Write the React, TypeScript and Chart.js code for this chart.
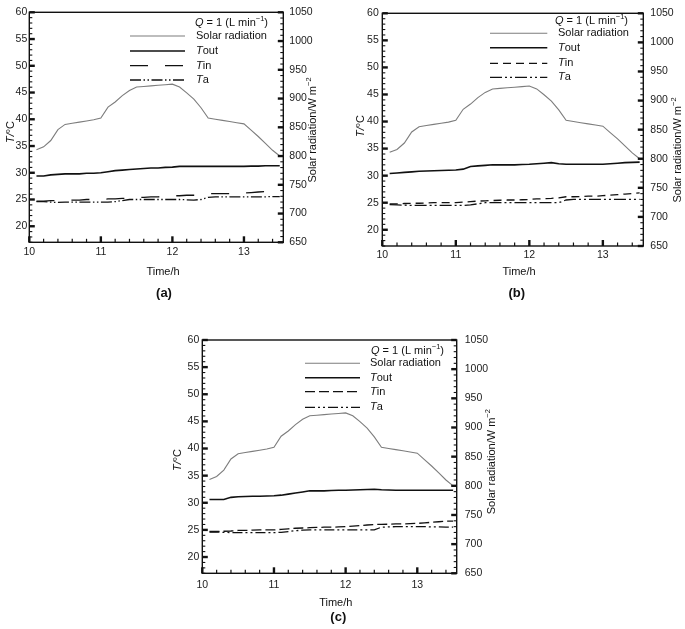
import React, { useEffect, useRef } from 'react';
import { Chart, registerables } from 'chart.js';

Chart.register(...registerables);

// ---------- data ----------
const TIMES = [10.1, 10.2, 10.3, 10.4, 10.5, 10.6, 10.7, 10.8, 10.9, 11.0, 11.1, 11.2, 11.3, 11.4, 11.5, 11.6, 11.7, 11.8, 11.9, 12.0, 12.1, 12.2, 12.3, 12.4, 12.5, 12.6, 12.7, 12.8, 12.9, 13.0, 13.1, 13.2, 13.3, 13.4, 13.5];

const SOLAR = [811, 816, 827, 846, 855, 857, 859, 861, 863, 866, 885, 894, 905, 914, 920, 921, 922, 923, 924, 925, 920, 910, 899, 884, 866, 864, 862, 860, 858, 856, 845, 834, 822, 810, 800];

const TOUT_A = [29.4, 29.4, 29.6, 29.7, 29.8, 29.8, 29.8, 29.9, 29.9, 30.0, 30.2, 30.4, 30.5, 30.6, 30.7, 30.8, 30.9, 30.9, 31.0, 31.05, 31.2, 31.2, 31.2, 31.2, 31.2, 31.2, 31.2, 31.2, 31.2, 31.2, 31.25, 31.25, 31.3, 31.3, 31.3];
const TIN_A = [24.7, 24.7, 24.8, 24.8, 24.9, 24.9, 24.9, 25.0, 25.0, 25.0, 25.1, 25.1, 25.2, 25.3, 25.4, 25.4, 25.5, 25.5, 25.6, 25.7, 25.7, 25.8, 25.8, 25.9, 26.1, 26.1, 26.1, 26.1, 26.2, 26.2, 26.3, 26.4, 26.5, 26.6, 26.7];
const TA_A = [24.6, 24.6, 24.5, 24.45, 24.5, 24.5, 24.5, 24.5, 24.5, 24.5, 24.5, 24.6, 24.8, 25.0, 25.0, 25.0, 25.0, 25.0, 25.0, 25.0, 25.0, 24.95, 24.9, 25.0, 25.4, 25.5, 25.5, 25.5, 25.5, 25.5, 25.5, 25.5, 25.5, 25.55, 25.55];

const TOUT_B = [30.4, 30.5, 30.6, 30.7, 30.8, 30.85, 30.9, 30.95, 31.0, 31.05, 31.2, 31.7, 31.8, 31.9, 32.0, 32.0, 32.0, 32.0, 32.05, 32.1, 32.2, 32.3, 32.4, 32.2, 32.1, 32.1, 32.1, 32.1, 32.1, 32.1, 32.2, 32.3, 32.4, 32.45, 32.5];
const TIN_B = [24.8, 24.8, 24.85, 24.9, 24.9, 24.95, 25.0, 25.0, 25.0, 25.0, 25.1, 25.2, 25.3, 25.35, 25.4, 25.45, 25.5, 25.5, 25.55, 25.6, 25.7, 25.75, 25.8, 25.9, 26.1, 26.1, 26.15, 26.2, 26.2, 26.3, 26.4, 26.5, 26.6, 26.7, 26.8];
const TA_B = [24.65, 24.6, 24.55, 24.5, 24.5, 24.5, 24.5, 24.5, 24.5, 24.5, 24.5, 24.6, 24.8, 25.0, 25.0, 25.0, 25.0, 25.0, 25.0, 25.0, 25.0, 25.0, 25.0, 25.0, 25.5, 25.6, 25.6, 25.6, 25.6, 25.6, 25.6, 25.6, 25.6, 25.6, 25.6];

const TOUT_C = [30.6, 30.6, 30.6, 31.0, 31.1, 31.15, 31.2, 31.2, 31.25, 31.3, 31.4, 31.6, 31.8, 32.0, 32.2, 32.2, 32.2, 32.25, 32.3, 32.3, 32.35, 32.4, 32.45, 32.5, 32.4, 32.35, 32.3, 32.3, 32.3, 32.3, 32.3, 32.3, 32.3, 32.3, 32.3];
const TIN_C = [24.7, 24.7, 24.75, 24.8, 24.9, 24.9, 24.95, 25.0, 25.0, 25.0, 25.1, 25.2, 25.3, 25.35, 25.4, 25.45, 25.5, 25.5, 25.55, 25.6, 25.7, 25.8, 25.9, 26.0, 26.0, 26.05, 26.1, 26.1, 26.15, 26.2, 26.3, 26.4, 26.5, 26.6, 26.6];
const TA_C = [24.6, 24.6, 24.55, 24.5, 24.5, 24.5, 24.5, 24.5, 24.5, 24.5, 24.55, 24.7, 24.85, 24.95, 25.0, 25.0, 25.0, 25.0, 25.0, 25.0, 25.0, 25.0, 25.0, 25.0, 25.5, 25.55, 25.6, 25.6, 25.6, 25.6, 25.6, 25.55, 25.55, 25.5, 25.5];

const X_TICKS = [10, 11, 12, 13];
const T_TICKS = [20, 25, 30, 35, 40, 45, 50, 55, 60];
const W_TICKS = [650, 700, 750, 800, 850, 900, 950, 1000, 1050];

const X_MIN = 10;
const X_MAX = 13.55;
const T_MIN = 17;
const T_MAX = 60;
const W_MIN = 650;
const W_MAX = 1050;

// ---------- styling ----------
const FONT = "'Liberation Sans', Arial, Helvetica, sans-serif";
const SOLAR_COLOR = '#7d7d7d';
const INK = '#111111';

type Seg = { t: string; i?: boolean; sup?: boolean; b?: boolean };

function fontFor(s: Seg, size: number) {
  const sz = s.sup ? size * 0.68 : size;
  return `${s.i ? 'italic ' : ''}${s.b ? 'bold ' : ''}${sz}px ${FONT}`;
}

function drawRich(ctx: CanvasRenderingContext2D, segs: Seg[], x: number, y: number, size: number, align: 'left' | 'center') {
  let w = 0;
  for (const s of segs) {
    ctx.font = fontFor(s, size);
    w += ctx.measureText(s.t).width;
  }
  let cx = align === 'center' ? x - w / 2 : x;
  ctx.textBaseline = 'middle';
  ctx.textAlign = 'left';
  for (const s of segs) {
    ctx.font = fontFor(s, size);
    ctx.fillText(s.t, cx, s.sup ? y - size * 0.33 : y);
    cx += ctx.measureText(s.t).width;
  }
}

interface PanelCfg {
  id: string;
  left: number;
  top: number;
  width: number;
  height: number;
  pad: { left: number; top: number; right: number; bottom: number };
  tout: number[];
  tin: number[];
  ta: number[];
  tinDash: number[];
  taDash: number[];
  tickSize: number;
  leftPad: number;
  rightPad: number;
  xPad: number;
  legend: { qx: number; qy: number; lx1: number; lx2: number; tx: number; ys: number[] };
  xTitle: [number, number];
  caption: [number, number];
  yTitle: [number, number];
  y2Title: [number, number];
}

const PANELS: PanelCfg[] = [
  {
    id: '(a)', left: 0, top: 0, width: 340, height: 305,
    pad: { left: 29.3, top: 7.3, right: 56.7, bottom: 62.7 },
    tout: TOUT_A, tin: TIN_A, ta: TA_A,
    tinDash: [18, 17], taDash: [11, 2.5, 1.5, 2.5, 1.5, 2.5],
    tickSize: 10.5, leftPad: 2, rightPad: 6, xPad: 4,
    legend: { qx: 195, qy: 22.7, lx1: 130, lx2: 185, tx: 196, ys: [36, 51, 65.7, 80] },
    xTitle: [163, 272], caption: [164, 293], yTitle: [11, 132], y2Title: [313, 130],
  },
  {
    id: '(b)', left: 340, top: 0, width: 345, height: 305,
    pad: { left: 42.3, top: 5.5, right: 41.7, bottom: 59 },
    tout: TOUT_B, tin: TIN_B, ta: TA_B,
    tinDash: [8, 5], taDash: [12, 3, 2, 3, 2, 3],
    tickSize: 10.5, leftPad: 3.5, rightPad: 7, xPad: 3,
    legend: { qx: 215, qy: 20.7, lx1: 150, lx2: 207.3, tx: 218, ys: [33.3, 47.7, 63.3, 77.3] },
    xTitle: [179, 272], caption: [176.7, 293], yTitle: [20.5, 126], y2Title: [338, 150],
  },
  {
    id: '(c)', left: 170, top: 318, width: 360, height: 311,
    pad: { left: 32.3, top: 22, right: 73.3, bottom: 55.7 },
    tout: TOUT_C, tin: TIN_C, ta: TA_C,
    tinDash: [10, 4], taDash: [10, 3, 2, 3, 2, 3],
    tickSize: 10.5, leftPad: 3, rightPad: 8, xPad: 6,
    legend: { qx: 201, qy: 33, lx1: 135, lx2: 190, tx: 200, ys: [45.3, 59.7, 73.7, 89.3] },
    xTitle: [165.8, 285.3], caption: [168.3, 299], yTitle: [8.3, 142], y2Title: [321.7, 143.7],
  },
];

function makeDecorPlugin(cfg: PanelCfg) {
  return {
    id: 'decor' + cfg.id.replace(/[()]/g, ''),
    afterDraw(chart: any) {
      const ctx: CanvasRenderingContext2D = chart.ctx;
      const { left, right, top, bottom } = chart.chartArea;
      const sx = chart.scales.x;
      const sy = chart.scales.y;
      const sw = chart.scales.y2;
      ctx.save();

      // frame
      ctx.strokeStyle = INK;
      ctx.lineWidth = 1.4;
      ctx.strokeRect(left, top, right - left, bottom - top);

      ctx.lineCap = 'butt';
      // x ticks (inward, from bottom)
      for (let k = 0; k <= 35; k++) {
        const v = X_MIN + k * 0.2;
        if (v > X_MAX + 1e-6) break;
        const major = Math.abs(v - Math.round(v)) < 1e-6;
        const px = sx.getPixelForValue(v);
        ctx.lineWidth = major ? 2.4 : 1.2;
        ctx.beginPath();
        ctx.moveTo(px, bottom);
        ctx.lineTo(px, bottom - (major ? 6 : 3.5));
        ctx.stroke();
      }
      // left y ticks
      for (let v = Math.ceil(T_MIN); v <= T_MAX; v++) {
        const major = v % 5 === 0;
        const py = sy.getPixelForValue(v);
        ctx.lineWidth = major ? 2.4 : 1.1;
        ctx.beginPath();
        ctx.moveTo(left, py);
        ctx.lineTo(left + (major ? 5.5 : 3), py);
        ctx.stroke();
      }
      // right y ticks
      for (let v = W_MIN; v <= W_MAX; v += 10) {
        const major = v % 50 === 0;
        const py = sw.getPixelForValue(v);
        ctx.lineWidth = major ? 2.4 : 1.1;
        ctx.beginPath();
        ctx.moveTo(right, py);
        ctx.lineTo(right - (major ? 5.5 : 3), py);
        ctx.stroke();
      }

      // legend
      const L = cfg.legend;
      ctx.fillStyle = INK;
      drawRich(ctx, [{ t: 'Q', i: true }, { t: ' = 1 (L min' }, { t: '−1', sup: true }, { t: ')' }], L.qx, L.qy, 11, 'left');
      const items: { segs: Seg[]; color: string; width: number; dash: number[] }[] = [
        { segs: [{ t: 'Solar radiation' }], color: SOLAR_COLOR, width: 1.1, dash: [] },
        { segs: [{ t: 'T', i: true }, { t: 'out' }], color: INK, width: 1.6, dash: [] },
        { segs: [{ t: 'T', i: true }, { t: 'in' }], color: INK, width: 1.3, dash: cfg.tinDash },
        { segs: [{ t: 'T', i: true }, { t: 'a' }], color: INK, width: 1.3, dash: cfg.taDash },
      ];
      items.forEach((it, idx) => {
        const y = L.ys[idx];
        ctx.strokeStyle = it.color;
        ctx.lineWidth = it.width;
        ctx.setLineDash(it.dash);
        ctx.beginPath();
        ctx.moveTo(L.lx1, y);
        ctx.lineTo(L.lx2, y);
        ctx.stroke();
        ctx.setLineDash([]);
        ctx.fillStyle = INK;
        drawRich(ctx, it.segs, L.tx, y, 11, 'left');
      });

      // axis titles
      ctx.fillStyle = INK;
      drawRich(ctx, [{ t: 'Time/h' }], cfg.xTitle[0], cfg.xTitle[1], 11, 'center');
      drawRich(ctx, [{ t: cfg.id, b: true }], cfg.caption[0], cfg.caption[1], 13, 'center');

      ctx.save();
      ctx.translate(cfg.yTitle[0], cfg.yTitle[1]);
      ctx.rotate(-Math.PI / 2);
      drawRich(ctx, [{ t: 'T/', i: true }, { t: '°C' }], 0, 0, 11, 'center');
      ctx.restore();

      ctx.save();
      ctx.translate(cfg.y2Title[0], cfg.y2Title[1]);
      ctx.rotate(-Math.PI / 2);
      drawRich(ctx, [{ t: 'Solar radiation/W m' }, { t: '−2', sup: true }], 0, 0, 11, 'center');
      ctx.restore();

      ctx.restore();
    },
  };
}

function Panel({ cfg }: { cfg: PanelCfg }) {
  const ref = useRef<HTMLCanvasElement | null>(null);
  useEffect(() => {
    if (!ref.current) return;
    const pts = (arr: number[]) => TIMES.map((t, i) => ({ x: t, y: arr[i] }));
    const tickFont = { family: FONT, size: cfg.tickSize };
    const chart = new Chart(ref.current, {
      type: 'line',
      data: {
        datasets: [
          { label: 'Solar radiation', data: pts(SOLAR), yAxisID: 'y2', borderColor: SOLAR_COLOR, borderWidth: 1.1, pointRadius: 0, tension: 0 },
          { label: 'Tout', data: pts(cfg.tout), yAxisID: 'y', borderColor: INK, borderWidth: 1.6, pointRadius: 0, tension: 0 },
          { label: 'Tin', data: pts(cfg.tin), yAxisID: 'y', borderColor: INK, borderWidth: 1.3, borderDash: cfg.tinDash, pointRadius: 0, tension: 0 },
          { label: 'Ta', data: pts(cfg.ta), yAxisID: 'y', borderColor: INK, borderWidth: 1.3, borderDash: cfg.taDash, pointRadius: 0, tension: 0 },
        ],
      },
      options: {
        animation: false,
        responsive: false,
        maintainAspectRatio: false,
        layout: { padding: { left: 0, right: 0, bottom: 0, top: cfg.pad.top } },
        plugins: { legend: { display: false }, tooltip: { enabled: false } },
        scales: {
          x: {
            type: 'linear', min: X_MIN, max: X_MAX, position: 'bottom',
            grid: { display: false, drawTicks: false },
            border: { display: false },
            afterBuildTicks: (s: any) => { s.ticks = X_TICKS.map((v) => ({ value: v })); },
            afterFit: (s: any) => { s.height = cfg.pad.bottom; },
            ticks: { autoSkip: false, maxRotation: 0, padding: cfg.xPad, color: '#222', font: tickFont, callback: (v: any) => String(v) },
          },
          y: {
            type: 'linear', min: T_MIN, max: T_MAX, position: 'left',
            grid: { display: false, drawTicks: false },
            border: { display: false },
            afterBuildTicks: (s: any) => { s.ticks = T_TICKS.map((v) => ({ value: v })); },
            afterFit: (s: any) => { s.width = cfg.pad.left; },
            ticks: { autoSkip: false, padding: cfg.leftPad, color: '#222', font: tickFont, callback: (v: any) => String(v) },
          },
          y2: {
            type: 'linear', min: W_MIN, max: W_MAX, position: 'right',
            grid: { display: false, drawTicks: false },
            border: { display: false },
            afterBuildTicks: (s: any) => { s.ticks = W_TICKS.map((v) => ({ value: v })); },
            afterFit: (s: any) => { s.width = cfg.pad.right; },
            ticks: { autoSkip: false, padding: cfg.rightPad, color: '#222', font: tickFont, callback: (v: any) => String(v) },
          },
        },
      },
      plugins: [makeDecorPlugin(cfg)],
    } as any);
    return () => chart.destroy();
  }, [cfg]);
  return (
    <canvas
      ref={ref}
      width={cfg.width}
      height={cfg.height}
      style={{ position: 'absolute', left: cfg.left, top: cfg.top, width: cfg.width, height: cfg.height }}
    />
  );
}

export default function App() {
  return (
    <div style={{ position: 'absolute', left: 0, top: 0, width: 685, height: 629, background: '#ffffff', overflow: 'hidden' }}>
      {PANELS.map((p) => (
        <Panel key={p.id} cfg={p} />
      ))}
    </div>
  );
}
